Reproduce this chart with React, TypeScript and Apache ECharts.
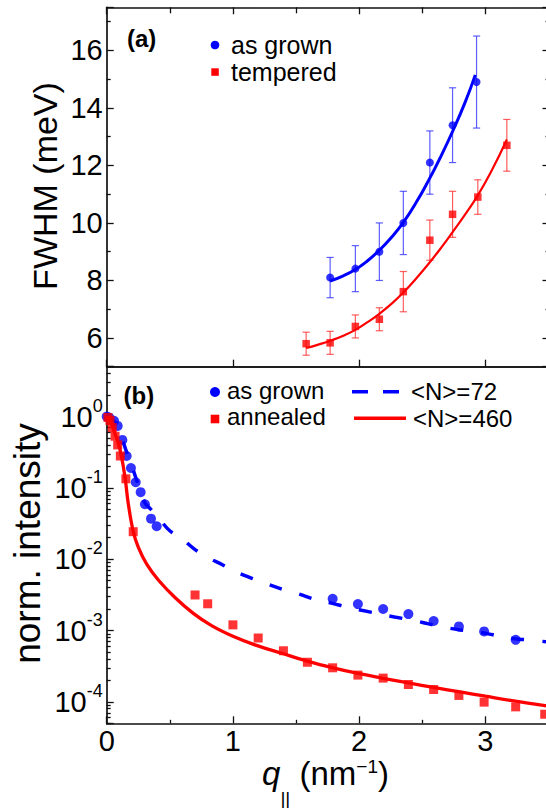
import React, { useEffect, useRef } from 'react';
import * as echarts from 'echarts';

// ---------- Panel (a): FWHM vs q ----------
const qGrownA = [1.77, 1.97, 2.16, 2.35, 2.56, 2.74, 2.93];
const fwhmGrown = [8.1, 8.41, 9.0, 10.0, 12.1, 13.4, 14.9];
const errGrown = [0.7, 0.8, 1.0, 1.1, 1.1, 1.3, 1.6];

const qTempered = [1.58, 1.77, 1.97, 2.16, 2.35, 2.56, 2.74, 2.94, 3.17];
const fwhmTempered = [5.8, 5.83, 6.4, 6.65, 7.61, 9.4, 10.3, 10.9, 12.7];
const errTempered = [0.4, 0.4, 0.4, 0.4, 0.7, 0.7, 0.8, 0.6, 0.9];

const qFitGrown = [1.77, 1.87, 1.97, 2.06, 2.16, 2.26, 2.35, 2.45, 2.55, 2.64, 2.74, 2.84, 2.92];
const fitGrown = [7.98, 8.15, 8.38, 8.66, 9.05, 9.52, 10.02, 10.7, 11.48, 12.25, 13.18, 14.2, 15.15];

const qFitTempered = [1.58, 1.67, 1.77, 1.87, 1.97, 2.06, 2.16, 2.26, 2.35, 2.45, 2.55, 2.65, 2.74, 2.84, 2.94, 3.05, 3.17];
const fitTempered = [5.65, 5.76, 5.9, 6.07, 6.28, 6.53, 6.84, 7.2, 7.58, 8.06, 8.58, 9.14, 9.68, 10.3, 10.96, 11.82, 12.9];

// ---------- Panel (b): normalized intensity vs q ----------
const qGrownB = [0.0, 0.02, 0.058, 0.087, 0.124, 0.158, 0.192, 0.23, 0.269, 0.303, 0.351, 0.396, 1.79, 1.99, 2.19, 2.39, 2.59, 2.79, 2.99, 3.24];
const iGrownB = [1.0, 0.97, 0.87, 0.74, 0.47, 0.28, 0.19, 0.12, 0.087, 0.059, 0.037, 0.029, 2.78e-3, 2.35e-3, 2.0e-3, 1.7e-3, 1.36e-3, 1.14e-3, 9.7e-4, 7.4e-4];

const qAnnealed = [0.01, 0.026, 0.044, 0.066, 0.087, 0.108, 0.152, 0.21, 0.7, 0.8, 1.0, 1.2, 1.4, 1.59, 1.79, 1.99, 2.19, 2.39, 2.59, 2.79, 2.99, 3.24, 3.47];
const iAnnealed = [0.97, 0.88, 0.7, 0.53, 0.4, 0.28, 0.134, 0.0243, 3.15e-3, 2.37e-3, 1.2e-3, 7.85e-4, 5.2e-4, 3.59e-4, 3.0e-4, 2.37e-4, 2.15e-4, 1.75e-4, 1.49e-4, 1.23e-4, 9.9e-5, 8.5e-5, 6.7e-5];

const qN72 = [0, 0.03, 0.06, 0.09, 0.12, 0.16, 0.2, 0.25, 0.3, 0.35, 0.41, 0.5, 0.58, 0.69, 0.79, 0.92, 1.02, 1.15, 1.27, 1.41, 1.52, 1.66, 1.78, 1.91, 2.02, 2.18, 2.28, 2.44, 2.55, 2.69, 2.8, 2.96, 3.06, 3.22, 3.33, 3.5];
const iN72 = [1.0, 0.95, 0.85, 0.7, 0.5, 0.31, 0.2, 0.11, 0.063, 0.05, 0.038, 0.025, 0.0205, 0.0141, 0.0108, 0.0083, 0.0067, 0.0054, 0.0045, 0.0037, 0.00326, 0.00269, 0.00242, 0.00212, 0.00192, 0.00168, 0.00155, 0.00137, 0.00124, 0.0011, 0.00102, 0.00094, 0.00087, 0.00077, 0.00074, 0.00069];

const qN460 = [0, 0.03, 0.066, 0.09, 0.113, 0.145, 0.171, 0.211, 0.25, 0.317, 0.409, 0.541, 0.686, 0.831, 1.0, 1.174, 1.386, 1.596, 1.794, 1.992, 2.19, 2.39, 2.6, 2.8, 3.0, 3.24, 3.5];
const iN460 = [1.0, 0.85, 0.57, 0.43, 0.3, 0.141, 0.06, 0.0241, 0.0148, 0.0085, 0.0051, 0.0029, 0.00174, 0.00117, 8.3e-4, 6.3e-4, 4.8e-4, 3.7e-4, 3.0e-4, 2.5e-4, 2.14e-4, 1.84e-4, 1.58e-4, 1.38e-4, 1.2e-4, 1.02e-4, 8.7e-5];

// axis ranges
const qRange = [0, 3.5];
const fwhmRange = [5, 17.5];
const intensityRange = [5e-5, 5];

const W = 552;
const H = 808;
const FONT = '"Liberation Sans", Arial, Helvetica, sans-serif';
const BLUE = '#0000ff';
const RED = '#ff0000';
const AXIS = { color: '#111', width: 1.7 };
const TICK = { color: '#111', width: 1.3 };

function logMinorValues(): number[] {
  const out: number[] = [];
  for (let d = -5; d <= 0; d++) {
    for (let k = 2; k <= 9; k++) {
      const v = k * Math.pow(10, d);
      if (v > intensityRange[0] * 0.999 && v < intensityRange[1] * 0.999) out.push(+v.toPrecision(3));
    }
  }
  return out;
}

function errorBarRender(color: string) {
  return (params: any, api: any) => {
    const x = api.value(0);
    const lo = api.coord([x, api.value(1)]);
    const hi = api.coord([x, api.value(2)]);
    const hw = 3.6;
    const st = { stroke: color, lineWidth: 1.2 };
    return {
      type: 'group',
      children: [
        { type: 'line', shape: { x1: lo[0], y1: lo[1], x2: hi[0], y2: hi[1] }, style: st },
        { type: 'line', shape: { x1: hi[0] - hw, y1: hi[1], x2: hi[0] + hw, y2: hi[1] }, style: st },
        { type: 'line', shape: { x1: lo[0] - hw, y1: lo[1], x2: lo[0] + hw, y2: lo[1] }, style: st },
      ],
    };
  };
}

function txt(x: number, y: number, text: string, fontSize: number, extra: any = {}) {
  return {
    type: 'text',
    x,
    y,
    z: 100,
    rotation: extra.rotation || 0,
    style: {
      text,
      fontSize,
      fontFamily: FONT,
      fontWeight: extra.bold ? 'bold' : 'normal',
      fill: '#000',
      align: extra.align || 'left',
      textAlign: extra.align || 'left',
      verticalAlign: 'middle',
      textVerticalAlign: 'middle',
      rich: extra.rich,
    },
  };
}

function buildOption(): any {
  const pow10Label = (v: number) => {
    const e = Math.log10(v);
    const r = Math.round(e);
    if (Math.abs(e - r) > 1e-6) return '';
    return `{b|10}{s|${r}}`;
  };

  const gridTop = { left: 106.7, top: 7.3, width: 441.8, height: 359.4 };
  const gridBot = { left: 106.7, top: 366.7, width: 441.8, height: 356.6 };

  const baseX = {
    type: 'value',
    min: qRange[0],
    max: qRange[1],
    interval: 1,
    splitLine: { show: false },
    axisLine: { show: true, onZero: false, lineStyle: AXIS },
  };

  return {
    animation: false,
    backgroundColor: '#fff',
    textStyle: { fontFamily: FONT },
    grid: [gridTop, gridBot],
    xAxis: [
      {
        ...baseX,
        gridIndex: 0,
        position: 'bottom',
        axisLabel: { show: false },
        axisTick: { show: true, inside: true, length: 7, lineStyle: TICK },
        minorTick: { show: false },
      },
      {
        ...baseX,
        gridIndex: 0,
        position: 'top',
        axisLabel: { show: false },
        axisTick: { show: true, inside: true, length: 7, lineStyle: TICK },
        minorTick: { show: true, splitNumber: 2, length: 6, lineStyle: TICK },
      },
      {
        ...baseX,
        gridIndex: 1,
        position: 'bottom',
        axisLabel: {
          show: true,
          margin: 3,
          fontSize: 29,
          color: '#000',
          fontFamily: FONT,
          formatter: (v: number) => (Number.isInteger(v) ? String(v) : ''),
        },
        axisTick: { show: true, inside: true, length: 7, lineStyle: TICK },
        minorTick: { show: true, splitNumber: 2, length: 3.5, lineStyle: TICK },
      },
      {
        ...baseX,
        gridIndex: 1,
        position: 'top',
        axisLabel: { show: false },
        axisTick: { show: false },
      },
    ],
    yAxis: [
      {
        type: 'value',
        gridIndex: 0,
        position: 'left',
        min: fwhmRange[0],
        max: fwhmRange[1],
        splitNumber: 6,
        splitLine: { show: false },
        axisLine: { show: true, onZero: false, lineStyle: AXIS },
        axisTick: { show: true, inside: true, length: 7, lineStyle: TICK },
        minorTick: { show: true, splitNumber: 2, length: 4, lineStyle: TICK },
        axisLabel: {
          show: true,
          margin: 4,
          fontSize: 29,
          color: '#000',
          fontFamily: FONT,
          formatter: (v: number) => (Math.abs(v % 2) < 1e-9 ? String(v) : ''),
        },
      },
      {
        type: 'value',
        gridIndex: 0,
        position: 'right',
        min: fwhmRange[0],
        max: fwhmRange[1],
        splitNumber: 6,
        splitLine: { show: false },
        axisLine: { show: true, onZero: false, lineStyle: AXIS },
        axisTick: { show: true, inside: true, length: 6, lineStyle: TICK },
        minorTick: { show: true, splitNumber: 2, length: 3, lineStyle: TICK },
        axisLabel: { show: false },
      },
      {
        type: 'log',
        logBase: 10,
        gridIndex: 1,
        position: 'left',
        min: intensityRange[0],
        max: intensityRange[1],
        splitLine: { show: false },
        axisLine: { show: true, onZero: false, lineStyle: AXIS },
        axisTick: { show: true, inside: true, length: 7, lineStyle: TICK },
        axisLabel: {
          show: true,
          margin: 4,
          color: '#000',
          fontFamily: FONT,
          formatter: pow10Label,
          rich: {
            b: { fontSize: 29, lineHeight: 40, verticalAlign: 'middle', fontFamily: FONT, color: '#000' },
            s: { fontSize: 18, lineHeight: 18, verticalAlign: 'top', fontFamily: FONT, color: '#000' },
          },
        },
      },
      {
        type: 'log',
        logBase: 10,
        gridIndex: 1,
        position: 'left',
        min: intensityRange[0],
        max: intensityRange[1],
        splitLine: { show: false },
        axisLine: { show: false },
        axisLabel: { show: false },
        axisTick: { show: true, inside: true, length: 4, lineStyle: TICK, customValues: logMinorValues() },
      },
    ],
    series: [
      // ----- panel (a)
      {
        type: 'custom',
        xAxisIndex: 0,
        yAxisIndex: 0,
        z: 1,
        renderItem: errorBarRender('rgba(40,40,255,0.75)'),
        encode: { x: 0, y: [1, 2] },
        data: qGrownA.map((q, i) => [q, fwhmGrown[i] - errGrown[i], fwhmGrown[i] + errGrown[i]]),
      },
      {
        type: 'custom',
        xAxisIndex: 0,
        yAxisIndex: 0,
        z: 1,
        renderItem: errorBarRender('rgba(255,40,40,0.75)'),
        encode: { x: 0, y: [1, 2] },
        data: qTempered.map((q, i) => [q, fwhmTempered[i] - errTempered[i], fwhmTempered[i] + errTempered[i]]),
      },
      {
        type: 'line',
        xAxisIndex: 0,
        yAxisIndex: 0,
        z: 2,
        smooth: 0.5,
        showSymbol: false,
        symbol: 'none',
        lineStyle: { color: BLUE, width: 3 },
        data: qFitGrown.map((q, i) => [q, fitGrown[i]]),
      },
      {
        type: 'line',
        xAxisIndex: 0,
        yAxisIndex: 0,
        z: 2,
        smooth: 0.5,
        showSymbol: false,
        symbol: 'none',
        lineStyle: { color: RED, width: 2.2 },
        data: qFitTempered.map((q, i) => [q, fitTempered[i]]),
      },
      {
        type: 'scatter',
        xAxisIndex: 0,
        yAxisIndex: 0,
        z: 3,
        symbol: 'circle',
        symbolSize: 8,
        itemStyle: { color: BLUE },
        data: qGrownA.map((q, i) => [q, fwhmGrown[i]]),
      },
      {
        type: 'scatter',
        xAxisIndex: 0,
        yAxisIndex: 0,
        z: 3,
        symbol: 'rect',
        symbolSize: 7.5,
        itemStyle: { color: RED },
        data: qTempered.map((q, i) => [q, fwhmTempered[i]]),
      },
      // ----- panel (b)
      {
        type: 'line',
        xAxisIndex: 2,
        yAxisIndex: 2,
        z: 2,
        smooth: 0.4,
        showSymbol: false,
        symbol: 'none',
        lineStyle: { color: BLUE, width: 3.5, type: [13, 18] },
        data: qN72.map((q, i) => [q, iN72[i]]),
      },
      {
        type: 'scatter',
        xAxisIndex: 2,
        yAxisIndex: 2,
        z: 3,
        symbol: 'circle',
        symbolSize: 10,
        itemStyle: { color: BLUE },
        data: qGrownB.map((q, i) => [q, iGrownB[i]]),
      },
      {
        type: 'line',
        xAxisIndex: 2,
        yAxisIndex: 2,
        z: 4,
        smooth: 0.4,
        showSymbol: false,
        symbol: 'none',
        lineStyle: { color: RED, width: 3.3 },
        data: qN460.map((q, i) => [q, iN460[i]]),
      },
      {
        type: 'scatter',
        xAxisIndex: 2,
        yAxisIndex: 2,
        z: 5,
        symbol: 'rect',
        symbolSize: 9,
        itemStyle: { color: RED },
        data: qAnnealed.map((q, i) => [q, iAnnealed[i]]),
      },
    ],
    graphic: [
      // panel labels
      txt(127, 38.5, '(a)', 24, { bold: true }),
      txt(123.5, 395, '(b)', 24, { bold: true }),
      // legend (a)
      { type: 'circle', z: 100, shape: { cx: 215, cy: 45, r: 4.3 }, style: { fill: BLUE } },
      txt(231, 45, 'as grown', 25),
      { type: 'rect', z: 100, shape: { x: 211.3, y: 68.3, width: 7.5, height: 7.5 }, style: { fill: RED } },
      txt(231, 72, 'tempered', 25),
      // legend (b)
      { type: 'circle', z: 100, shape: { cx: 215, cy: 392, r: 5 }, style: { fill: BLUE } },
      txt(227, 390, 'as grown', 24),
      { type: 'rect', z: 100, shape: { x: 210.7, y: 414.7, width: 8.6, height: 8.6 }, style: { fill: RED } },
      txt(227, 416.7, 'annealed', 24),
      {
        type: 'line',
        z: 100,
        shape: { x1: 352, y1: 391.7, x2: 400, y2: 391.7 },
        style: { stroke: BLUE, lineWidth: 3.5, lineDash: [16, 15] },
      },
      txt(411, 391.7, '<N>=72', 24),
      {
        type: 'line',
        z: 100,
        shape: { x1: 354, y1: 418.3, x2: 406, y2: 418.3 },
        style: { stroke: RED, lineWidth: 3.5 },
      },
      txt(413, 418.3, '<N>=460', 24),
      // axis titles
      txt(45, 186, 'FWHM (meV)', 34, { rotation: Math.PI / 2, align: 'center' }),
      txt(27.5, 543.5, 'norm. intensity', 37, { rotation: Math.PI / 2, align: 'center' }),
      txt(325.5, 782, '{q|q}{sub|||}{sp| }{n|(nm}{sup|\u22121}{n|)}', 33, {
        align: 'center',
        rich: {
          q: { fontSize: 33, fontStyle: 'italic', lineHeight: 44, verticalAlign: 'top', fontFamily: FONT, fill: '#000' },
          sub: { fontSize: 19, lineHeight: 19, verticalAlign: 'bottom', fontFamily: FONT, fill: '#000' },
          sp: { fontSize: 33, lineHeight: 51, verticalAlign: 'top', fontFamily: FONT, fill: '#000' },
          n: { fontSize: 33, lineHeight: 44, verticalAlign: 'top', fontFamily: FONT, fill: '#000' },
          sup: { fontSize: 19, lineHeight: 25, verticalAlign: 'top', fontFamily: FONT, fill: '#000' },
        },
      }),
    ],
  };
}

export default function App() {
  const ref = useRef<HTMLDivElement>(null);
  useEffect(() => {
    if (!ref.current) return;
    const chart = echarts.init(ref.current, null, { renderer: 'svg', width: W, height: H });
    chart.setOption(buildOption());
    return () => chart.dispose();
  }, []);
  return (
    <div
      ref={ref}
      style={{ position: 'fixed', left: 0, top: 0, width: W, height: H, background: '#fff' }}
    />
  );
}
